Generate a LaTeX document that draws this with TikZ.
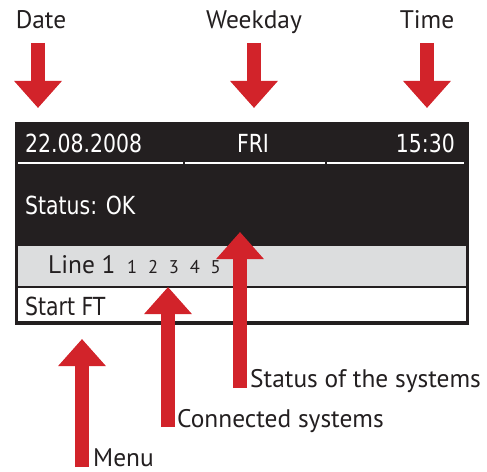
\documentclass[tikz,border=0pt]{standalone}
\usepackage{fontspec}
\setmainfont{PT Sans}
\newfontfamily\lcdfont{DejaVu Sans}[FakeStretch=0.82]
\newfontfamily\slotfont{PT Sans}[WordSpace=2.2]
\usepackage{tikz}
\usetikzlibrary{positioning,arrows.meta}
\definecolor{ArrowRed}{HTML}{D2232A}
\definecolor{LcdBlack}{HTML}{231F20}
\definecolor{LcdGray}{HTML}{DCDDDE}

\begin{document}
\begin{tikzpicture}[
  x=1bp, y=-1bp,
  callout/.style={font=\fontsize{25.5}{30}\selectfont,text=LcdBlack,inner sep=0pt},
  lcd/.style={font=\lcdfont\fontsize{25}{30}\selectfont,text=white,inner sep=0pt},
  bigarrow/.style={-{Triangle[width=46bp,length=27bp]},line width=13.5bp,ArrowRed},
  sep/.style={line width=1.2pt},
]
\useasboundingbox (0,0) rectangle (487,472);

% display panel
\fill[LcdBlack] (15,122) rectangle (469,325);
\fill[LcdGray]  (18,246) rectangle (466,286);
\fill[white]    (18,288) rectangle (466,321);
\draw[sep,white]    (18,163) -- (183,163) (185,163) -- (325,163) (327,163) -- (464,163);
\draw[sep,LcdBlack] (18,287) -- (183,287) (185,287) -- (325,287) (327,287) -- (464,287);

\node[lcd,anchor=base west] (datetxt) at (25,153) {22.08.2008};
\node[lcd,anchor=base]      (daytxt)  at (253,153) {FRI};
\node[lcd,anchor=base east] (timetxt) at (455,153) {15:30};
\node[lcd,anchor=base west] (status)  at (25,215) {Status: OK};
\node[callout,anchor=base west] (line) at (48,273) {Line 1};
\node[callout,anchor=base west,font=\slotfont\fontsize{18.5}{22}\selectfont]
  (systems) at (127,273) {1 2 3 4 5};
\node[lcd,anchor=base west,text=LcdBlack] (start) at (25,315) {Start FT};

% labels above
\node[callout,anchor=base] (date)    at (41,29)  {Date};
\node[callout,anchor=base] (weekday) at (254,29) {Weekday};
\node[callout,anchor=base] (time)    at (427,29) {Time};
\coordinate (datetail) at (38,43);   \coordinate (datetip) at (38,108);
\coordinate (daytail)  at (254,43);  \coordinate (daytip)  at (254,108);
\coordinate (timetail) at (427,43);  \coordinate (timetip) at (427,108);
\draw[bigarrow] (datetail) -- (datetip);
\draw[bigarrow] (daytail) -- (daytip);
\draw[bigarrow] (timetail) -- (timetip);

% labels below
\coordinate (statustail) at (240,388); \coordinate (statustip) at (240,232);
\coordinate (conntail)   at (168,427); \coordinate (conntip)   at (168,287);
\coordinate (menutail)   at (82,467);  \coordinate (menutip)   at (82,339);
\draw[bigarrow] (statustail) -- (statustip);
\draw[bigarrow] (conntail) -- (conntip);
\draw[bigarrow] (menutail) -- (menutip);
\node[callout,anchor=base west] (statuslbl) at (250,387) {Status of the systems};
\node[callout,anchor=base west] (connlbl)   at (177,427) {Connected systems};
\node[callout,anchor=base west] (menulbl)   at (93,466)  {Menu};
\end{tikzpicture}
\end{document}
